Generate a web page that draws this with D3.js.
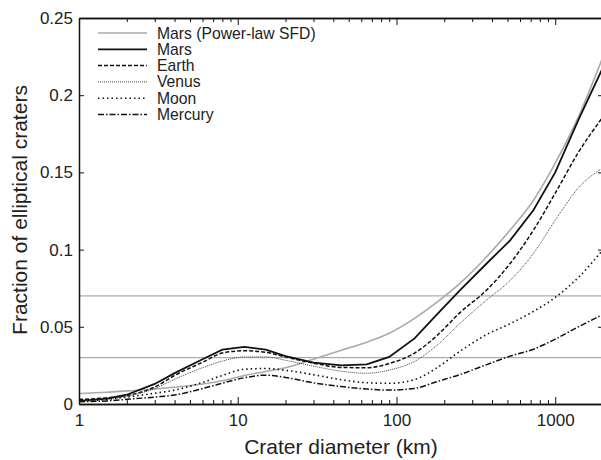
<!DOCTYPE html>
<head>
  <meta charset="utf-8">
  <title>Elliptical craters</title>
  <script src="https://d3js.org/d3.v7.min.js"></script>
  <style>
    body { margin: 0; background: #fff; }
    text { font-family: "Liberation Sans", Arial, sans-serif; }
  </style>
</head>
<body>
  <div id="chart"></div>
  <script>
    // crater diameters (km) where the curves were read
    var diameters = [1, 1.5, 2, 3, 4, 6, 8, 11, 15, 20, 30, 45, 65, 90, 130, 180, 250, 370, 520, 730, 1000, 1400, 2000];

    var marsPowerLaw = [0.0068, 0.0076, 0.0085, 0.0097, 0.0108, 0.013, 0.015, 0.0185, 0.021, 0.0235, 0.029, 0.0348, 0.040, 0.0458, 0.0555, 0.066, 0.078, 0.0954, 0.1127, 0.132, 0.156, 0.186, 0.225];
    var mars = [0.002, 0.0035, 0.006, 0.013, 0.020, 0.029, 0.0352, 0.037, 0.0352, 0.031, 0.0268, 0.025, 0.0257, 0.0305, 0.0425, 0.058, 0.0735, 0.091, 0.106, 0.1256, 0.150, 0.184, 0.218];
    var earth = [0.003, 0.004, 0.0055, 0.011, 0.0185, 0.027, 0.033, 0.0345, 0.0335, 0.0305, 0.0265, 0.0237, 0.0235, 0.0262, 0.033, 0.0443, 0.059, 0.0738, 0.091, 0.1127, 0.1365, 0.163, 0.186];
    var venus = [0.002, 0.003, 0.005, 0.010, 0.016, 0.0235, 0.0278, 0.0305, 0.0305, 0.0283, 0.0245, 0.0212, 0.0199, 0.022, 0.0276, 0.038, 0.052, 0.0674, 0.080, 0.0976, 0.119, 0.140, 0.153];
    var moon = [0.002, 0.003, 0.0045, 0.007, 0.009, 0.014, 0.0185, 0.0225, 0.023, 0.0218, 0.019, 0.0157, 0.0138, 0.0134, 0.0158, 0.0235, 0.034, 0.045, 0.052, 0.060, 0.069, 0.082, 0.100];
    var mercury = [0.0015, 0.002, 0.003, 0.0045, 0.0058, 0.010, 0.0135, 0.017, 0.0187, 0.0172, 0.0137, 0.0113, 0.0097, 0.009, 0.0101, 0.0145, 0.019, 0.0255, 0.031, 0.0355, 0.042, 0.050, 0.058];

    var seriesNames = ['Mars (Power-law SFD)', 'Mars', 'Earth', 'Venus', 'Moon', 'Mercury'];
    var seriesValues = [marsPowerLaw, mars, earth, venus, moon, mercury];

    var xTicks = [1, 10, 100, 1000];
    var yTicks = [0, 0.05, 0.1, 0.15, 0.2, 0.25];
    var refLines = [0.03, 0.07];

    // line styles per series
    var styles = [
      { color: '#aaa', width: 1.6, dash: null, curve: d3.curveMonotoneX },
      { color: '#111', width: 1.8, dash: null, curve: d3.curveLinear },
      { color: '#111', width: 1.5, dash: '4,2', curve: d3.curveMonotoneX },
      { color: '#444', width: 1, dash: '1,1', curve: d3.curveMonotoneX },
      { color: '#111', width: 1.6, dash: '1.5,3', curve: d3.curveMonotoneX },
      { color: '#111', width: 1.5, dash: '6,2,1.5,2', curve: d3.curveMonotoneX }
    ];

    var margin = { top: 18, left: 79 };
    var width = 524;
    var height = 386;

    var svg = d3.select('#chart')
      .append('svg')
        .attr('width', 601)
        .attr('height', 460);

    var g = svg.append('g')
      .attr('transform', 'translate(' + margin.left + ',' + margin.top + ')');

    var x = d3.scaleLog().domain([1, 2000]).range([0, width]);
    var y = d3.scaleLinear().domain([0, 0.25]).range([height, 0]);

    // minor ticks 2..9 per decade
    var minor = [];
    [1, 10, 100, 1000].forEach(function (d) {
      for (var k = 2; k <= 9; k++) { if (d * k <= 2000) minor.push(d * k); }
    });

    // reference lines
    g.selectAll('.ref')
      .data(refLines)
      .enter()
      .append('line')
        .attr('x1', 0).attr('x2', width)
        .attr('y1', function (d) { return y(d); })
        .attr('y2', function (d) { return y(d); })
        .attr('stroke', '#999')
        .attr('stroke-width', 1);

    // curves
    seriesValues.forEach(function (vals, i) {
      var st = styles[i];
      var line = d3.line()
        .x(function (d, j) { return x(diameters[j]); })
        .y(function (d) { return y(d); })
        .curve(st.curve);
      g.append('path')
        .datum(vals)
        .attr('d', line)
        .attr('fill', 'none')
        .attr('stroke', st.color)
        .attr('stroke-width', st.width)
        .attr('stroke-dasharray', st.dash);
    });

    // axes (ticks inside)
    var fmtX = function (d) { return d3.format('d')(d); };
    var fmtY = function (d) { return d === 0 ? '0' : String(d); };

    var xAxis = g.append('g')
      .attr('transform', 'translate(0,' + height + ')')
      .call(d3.axisBottom(x).tickValues(xTicks).tickFormat(fmtX).tickSizeInner(-7).tickSizeOuter(0).tickPadding(10));
    g.append('g')
      .attr('transform', 'translate(0,' + height + ')')
      .call(d3.axisBottom(x).tickValues(minor).tickFormat('').tickSizeInner(-4).tickSizeOuter(0));
    g.append('g')
      .call(d3.axisTop(x).tickValues(xTicks).tickFormat('').tickSizeInner(-7).tickSizeOuter(0));
    g.append('g')
      .call(d3.axisTop(x).tickValues(minor).tickFormat('').tickSizeInner(-4).tickSizeOuter(0));

    var yAxis = g.append('g')
      .call(d3.axisLeft(y).tickValues(yTicks).tickFormat(fmtY).tickSizeInner(-5).tickSizeOuter(0).tickPadding(6));
    g.append('g')
      .attr('transform', 'translate(' + width + ',0)')
      .call(d3.axisRight(y).tickValues(yTicks).tickFormat('').tickSizeInner(-5).tickSizeOuter(0));

    g.selectAll('.domain').attr('stroke', '#111').attr('stroke-width', 1.5);
    g.selectAll('.tick line').attr('stroke', '#111').attr('stroke-width', 1);
    xAxis.selectAll('text').attr('font-size', 17).attr('fill', '#222');
    yAxis.selectAll('text').attr('font-size', 17).attr('fill', '#222');

    // axis titles
    svg.append('text')
      .attr('x', 341)
      .attr('y', 454)
      .attr('text-anchor', 'middle')
      .attr('font-size', 21)
      .attr('fill', '#222')
      .text('Crater diameter (km)');

    svg.append('text')
      .attr('transform', 'translate(27,210) rotate(-90)')
      .attr('text-anchor', 'middle')
      .attr('font-size', 21)
      .attr('fill', '#222')
      .text('Fraction of elliptical craters');

    // legend
    var legend = g.append('g').attr('transform', 'translate(19,15)');
    seriesNames.forEach(function (name, i) {
      var st = styles[i];
      var row = legend.append('g').attr('transform', 'translate(0,' + (i * 16.3) + ')');
      row.append('line')
        .attr('x1', 0).attr('x2', 49)
        .attr('stroke', st.color)
        .attr('stroke-width', st.width)
        .attr('stroke-dasharray', st.dash);
      row.append('text')
        .attr('x', 59)
        .attr('y', 5.5)
        .attr('font-size', 15.7)
        .attr('fill', '#222')
        .text(name);
    });
  </script>
</body>
